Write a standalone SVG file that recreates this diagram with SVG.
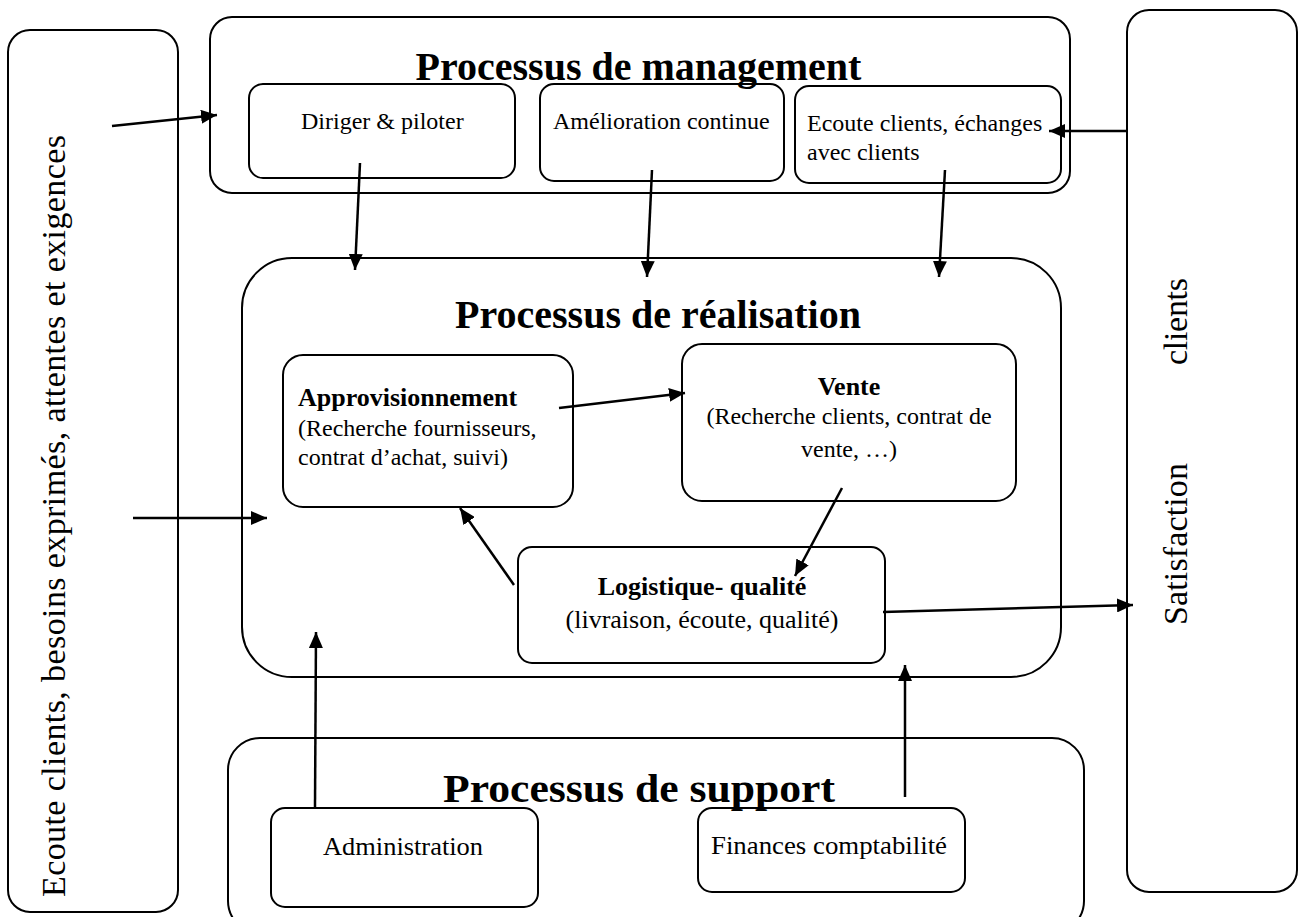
<svg xmlns="http://www.w3.org/2000/svg" width="1298" height="917" viewBox="0 0 1298 917">
<style>
.box{fill:none;stroke:#000;stroke-width:2}
.t{font-family:"Liberation Serif","Times New Roman",serif;fill:#000}
.r24{font-size:24px}
.r26{font-size:26px}
.b26{font-size:26px;font-weight:bold}
.h{font-size:40px;font-weight:bold}
.v{font-size:34px}
.c{stroke:#000;stroke-width:2.5;fill:none;marker-end:url(#ah)}
</style>
<defs>
<marker id="ah" markerUnits="userSpaceOnUse" markerWidth="16" markerHeight="14" refX="16" refY="7" orient="auto" viewBox="0 0 16 14">
<path d="M0,0 L16,7 L0,14 z" fill="#000"/>
</marker>
</defs>
<rect width="1298" height="917" fill="#fff"/>

<g id="ecoute-besoins">
<rect class="box" x="8" y="30" width="170" height="882" rx="22"/>
<text class="t v" transform="translate(65,897) rotate(-90)" textLength="762" lengthAdjust="spacing">Ecoute clients, besoins exprimés, attentes  et exigences</text>
</g>

<g id="satisfaction-clients">
<rect class="box" x="1127" y="10" width="170" height="882" rx="22"/>
<text class="t v" transform="translate(1187,625) rotate(-90)"><tspan x="0" textLength="162">Satisfaction</tspan><tspan x="260" textLength="87">clients</tspan></text>
</g>

<g id="management">
<rect class="box" x="210" y="17" width="860" height="176" rx="22"/>
<text class="t h" x="638.5" y="80" text-anchor="middle">Processus de management</text>
</g>
<g id="diriger">
<rect class="box" x="249" y="84" width="266" height="94" rx="14"/>
<text class="t r24" x="301" y="129">Diriger &amp; piloter</text>
</g>
<g id="amelioration">
<rect class="box" x="540" y="84" width="244" height="97" rx="14"/>
<text class="t r24" x="553" y="129">Amélioration continue</text>
</g>
<g id="ecoute-clients">
<rect class="box" x="795" y="86" width="266" height="97" rx="14"/>
<text class="t r24" x="807" y="131">Ecoute clients, échanges</text>
<text class="t r24" x="807" y="160">avec clients</text>
</g>

<g id="realisation">
<rect class="box" x="242" y="258" width="819" height="419" rx="50"/>
<text class="t h" x="658" y="328" text-anchor="middle">Processus de réalisation</text>
</g>
<g id="approvisionnement">
<rect class="box" x="283" y="355" width="290" height="152" rx="20"/>
<text class="t b26" x="298" y="406">Approvisionnement</text>
<text class="t r24" x="298" y="436">(Recherche fournisseurs,</text>
<text class="t r24" x="298" y="465">contrat d’achat, suivi)</text>
</g>
<g id="vente">
<rect class="box" x="682" y="344" width="334" height="157" rx="20"/>
<text class="t b26" x="849" y="395" text-anchor="middle">Vente</text>
<text class="t r24" x="849" y="424" text-anchor="middle">(Recherche clients, contrat de</text>
<text class="t r24" x="849" y="457" text-anchor="middle">vente, …)</text>
</g>
<g id="logistique">
<rect class="box" x="518" y="547" width="367" height="116" rx="14"/>
<text class="t b26" x="702" y="595" text-anchor="middle">Logistique- qualité</text>
<text class="t r26" x="702" y="628" text-anchor="middle">(livraison, écoute, qualité)</text>
</g>

<g id="support">
<rect class="box" x="228" y="738" width="856" height="195" rx="32"/>
<text class="t h" x="443" y="802" textLength="392" lengthAdjust="spacingAndGlyphs">Processus de support</text>
</g>
<g id="administration">
<rect class="box" x="271" y="808" width="267" height="99" rx="14"/>
<text class="t r26" x="323" y="855" textLength="160" lengthAdjust="spacingAndGlyphs">Administration</text>
</g>
<g id="finances">
<rect class="box" x="698" y="808" width="267" height="84" rx="14"/>
<text class="t r26" x="711" y="854" textLength="236" lengthAdjust="spacingAndGlyphs">Finances comptabilité</text>
</g>

<g id="connectors">
<line class="c" x1="112" y1="126" x2="217" y2="115"/>
<line class="c" x1="360" y1="163" x2="355" y2="270"/>
<line class="c" x1="652" y1="170" x2="647" y2="277"/>
<line class="c" x1="945" y1="170" x2="939" y2="277"/>
<line class="c" x1="1127" y1="131" x2="1049" y2="131"/>
<line class="c" x1="559" y1="408" x2="685" y2="393"/>
<line class="c" x1="842" y1="488" x2="795" y2="576"/>
<line class="c" x1="514" y1="585" x2="460" y2="508"/>
<line class="c" x1="883" y1="612" x2="1133" y2="605"/>
<line class="c" x1="133" y1="518" x2="267" y2="518"/>
<line class="c" x1="315" y1="807" x2="316" y2="632"/>
<line class="c" x1="905" y1="797" x2="905" y2="665"/>
</g>
</svg>
